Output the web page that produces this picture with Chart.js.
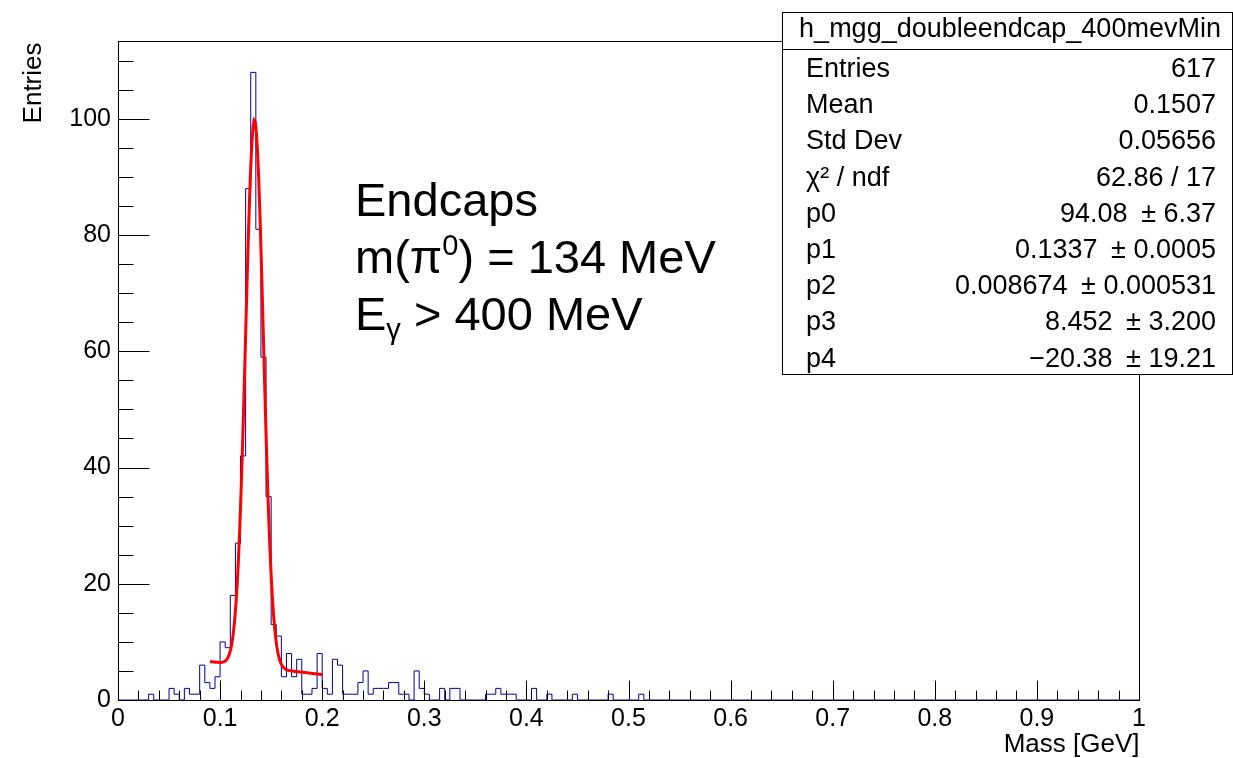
<!DOCTYPE html>
<html>
<head>
<meta charset="utf-8">
<title>h_mgg_doubleendcap_400mevMin</title>
<script src="https://cdn.jsdelivr.net/npm/chart.js@4.4.0/dist/chart.umd.min.js"></script>
<style>
  body { margin: 0; background: #fff; }
  canvas { display: block; }
</style>
</head>
<body>
<canvas id="massChart" width="1233" height="758"></canvas>
<script>
// diphoton invariant mass, both photons in the endcaps, E > 400 MeV
const histName = 'h_mgg_doubleendcap_400mevMin';
const xMin = 0, xMax = 1, nBins = 200;
const counts = [
  0, 0, 0, 0, 0, 0, 1, 0, 0, 0,   2, 1, 0, 2, 1, 1, 6, 3, 2, 4,
  10, 9, 18, 27, 42, 88, 108, 81, 59, 35,   13, 11, 4, 8, 4, 7, 1, 1, 2, 8,
  2, 1, 7, 6, 1, 1, 1, 3, 5, 1,   2, 2, 2, 3, 3, 1, 1, 0, 5, 2,
  1, 0, 0, 2, 0, 2, 2, 0, 0, 0,   0, 0, 1, 1, 2, 1, 1, 1, 0, 0,
  0, 2, 0, 0, 1, 0, 0, 0, 0, 1,   0, 0, 0, 0, 0, 0, 1, 0, 0, 0,
  0, 0, 1, 0, 0, 0, 0, 0, 0, 0,   0, 0, 0, 0, 0, 0, 0, 0, 0, 0,
  0, 0, 0, 0, 0, 0, 0, 0, 0, 0,   0, 0, 0, 0, 0, 0, 0, 0, 0, 0,
  0, 0, 0, 0, 0, 0, 0, 0, 0, 0,   0, 0, 0, 0, 0, 0, 0, 0, 0, 0,
  0, 0, 0, 0, 0, 0, 0, 0, 0, 0,   0, 0, 0, 0, 0, 0, 0, 0, 0, 0,
  0, 0, 0, 0, 0, 0, 0, 0, 0, 0,   0, 0, 0, 0, 0, 0, 0, 0, 0, 0
];

// gaus + pol1 fit: p0*exp(-0.5*((x-p1)/p2)^2) + p3 + p4*x
const fitParams = [94.08, 0.1337, 0.008674, 8.452, -20.38];
const fitErrors = [6.37, 0.0005, 0.000531, 3.200, 19.21];
const fitDigits = [2, 4, 6, 3, 2];
const fitRange = [0.09, 0.2];
const fitNpx = 100;

const statNames = ['Entries', 'Mean', 'Std Dev', 'χ² / ndf'];
const statValues = ['617', '0.1507', '0.05656', '62.86 / 17'];

const xTickValues = [0, 0.1, 0.2, 0.3, 0.4, 0.5, 0.6, 0.7, 0.8, 0.9, 1];
const xTickLabels = ['0', '0.1', '0.2', '0.3', '0.4', '0.5', '0.6', '0.7', '0.8', '0.9', '1'];
const yTickValues = [0, 20, 40, 60, 80, 100];
const yMax = 113.4;

const FONT = '"Liberation Sans", Arial, Helvetica, sans-serif';

// histogram outline, one point per bin low edge
const histPoints = counts.map((c, i) => ({ x: xMin + i * (xMax - xMin) / nBins, y: c }));
histPoints.push({ x: xMax, y: 0 });

function fitFunc(x) {
  const [p0, p1, p2, p3, p4] = fitParams;
  const t = (x - p1) / p2;
  return p0 * Math.exp(-0.5 * t * t) + p3 + p4 * x;
}
const fitPoints = [];
for (let k = 0; k < fitNpx; k++) {
  const x = fitRange[0] + k * (fitRange[1] - fitRange[0]) / (fitNpx - 1);
  fitPoints.push({ x: x, y: fitFunc(x) });
}

function fmt(v, d) {
  return v.toFixed(d).replace('-', '\u2212');
}

// frame box and inward ticks, root style
const frameTicks = {
  id: 'frameTicks',
  afterDatasetsDraw(chart) {
    const { ctx, chartArea: a, scales } = chart;
    const x = scales.x, y = scales.y;
    const L = Math.round(a.left) + 0.5, R = Math.round(a.right) + 0.5;
    const T = Math.round(a.top) + 0.5, B = Math.round(a.bottom) + 0.5;
    ctx.save();
    ctx.strokeStyle = '#000';
    ctx.lineWidth = 1;
    ctx.beginPath();
    for (let i = 0; i <= 50; i++) {
      const px = Math.round(x.getPixelForValue(i * 0.02)) + 0.5;
      const len = i % 5 === 0 ? 20 : 10;
      ctx.moveTo(px, B);
      ctx.lineTo(px, B - len);
    }
    for (let v = 0; v <= yMax; v += 5) {
      const py = Math.round(y.getPixelForValue(v)) + 0.5;
      const len = v % 20 === 0 ? 31 : 15;
      ctx.moveTo(L, py);
      ctx.lineTo(L + len, py);
    }
    ctx.stroke();
    ctx.strokeRect(L, T, R - L, B - T);

    // axis titles
    ctx.fillStyle = '#000';
    ctx.font = '26px ' + FONT;
    ctx.textAlign = 'right';
    ctx.textBaseline = 'alphabetic';
    ctx.fillText('Mass [GeV]', R, 752);
    ctx.save();
    ctx.translate(41, T + 1);
    ctx.rotate(-Math.PI / 2);
    ctx.fillText('Entries', 0, 0);
    ctx.restore();
    ctx.restore();
  }
};

// stats box with fit results
const statsBox = {
  id: 'statsBox',
  afterDraw(chart) {
    const ctx = chart.ctx;
    const bx = 782.5, by = 12.5, bw = 450, bh = 362;
    ctx.save();
    ctx.fillStyle = '#fff';
    ctx.fillRect(bx, by, bw, bh);
    ctx.strokeStyle = '#000';
    ctx.lineWidth = 1;
    ctx.strokeRect(bx, by, bw, bh);
    ctx.beginPath();
    ctx.moveTo(bx, 49.5);
    ctx.lineTo(bx + bw, 49.5);
    ctx.stroke();

    ctx.fillStyle = '#000';
    ctx.font = '27px ' + FONT;
    ctx.textBaseline = 'alphabetic';
    ctx.textAlign = 'center';
    ctx.fillText(histName, 1010, 37);

    const rows = statNames.map((n, i) => [n, statValues[i]]);
    fitParams.forEach((p, i) => {
      rows.push(['p' + i, fmt(p, fitDigits[i]) + '\u2002\u00b1 ' + fmt(fitErrors[i], fitDigits[i])]);
    });
    rows.forEach((r, i) => {
      const yb = 77 + i * 36.2;
      ctx.textAlign = 'left';
      ctx.fillText(r[0], 806, yb);
      ctx.textAlign = 'right';
      ctx.fillText(r[1], 1216, yb);
    });
    ctx.restore();
  }
};

// text pieces: [string, shift] with shift 0 normal, 1 superscript, -1 subscript
function drawRich(ctx, parts, x, y, size) {
  let cx = x;
  parts.forEach(([s, shift]) => {
    const fs = shift === 0 ? size : size * 0.62;
    ctx.font = fs + 'px ' + FONT;
    const dy = shift === 1 ? -size * 0.38 : shift === -1 ? size * 0.2 : 0;
    ctx.fillText(s, cx, y + dy);
    cx += ctx.measureText(s).width;
  });
}

const labelText = {
  id: 'labelText',
  afterDatasetsDraw(chart) {
    const ctx = chart.ctx;
    ctx.save();
    ctx.fillStyle = '#000';
    ctx.textAlign = 'left';
    ctx.textBaseline = 'alphabetic';
    const size = 47;
    drawRich(ctx, [['Endcaps', 0]], 355, 216, size);
    drawRich(ctx, [['m(π', 0], ['0', 1], [') = 134 MeV', 0]], 355, 273, size);
    drawRich(ctx, [['E', 0], ['γ', -1], [' > 400 MeV', 0]], 355, 330, size);
    ctx.restore();
  }
};

new Chart(document.getElementById('massChart'), {
  type: 'line',
  data: {
    datasets: [
      {
        label: 'fit',
        data: fitPoints,
        borderColor: '#ff0000',
        borderWidth: 3,
        pointRadius: 0,
        tension: 0,
        fill: false,
        order: 0
      },
      {
        label: histName,
        data: histPoints,
        stepped: 'before',
        borderColor: '#000099',
        borderWidth: 1,
        pointRadius: 0,
        fill: false,
        order: 1
      }
    ]
  },
  options: {
    responsive: false,
    animation: false,
    devicePixelRatio: 1,
    layout: { padding: { top: 41, right: 94, left: 0, bottom: 0 } },
    plugins: {
      legend: { display: false },
      tooltip: { enabled: false },
      title: { display: false }
    },
    scales: {
      x: {
        type: 'linear',
        min: xMin,
        max: xMax,
        grid: { display: false },
        border: { display: false },
        afterBuildTicks: s => { s.ticks = xTickValues.map(v => ({ value: v })); },
        afterFit: s => { s.height = 58; },
        ticks: {
          autoSkip: false,
          maxRotation: 0,
          padding: -4,
          color: '#000',
          font: { family: FONT, size: 25 },
          callback: (v, i) => xTickLabels[i]
        }
      },
      y: {
        type: 'linear',
        min: 0,
        max: yMax,
        grid: { display: false },
        border: { display: false },
        afterBuildTicks: s => { s.ticks = yTickValues.map(v => ({ value: v })); },
        afterFit: s => { s.width = 118; },
        ticks: {
          padding: -1,
          color: '#000',
          font: { family: FONT, size: 25 },
          callback: v => String(v)
        }
      }
    }
  },
  plugins: [frameTicks, labelText, statsBox]
});
</script>
</body>
</html>
